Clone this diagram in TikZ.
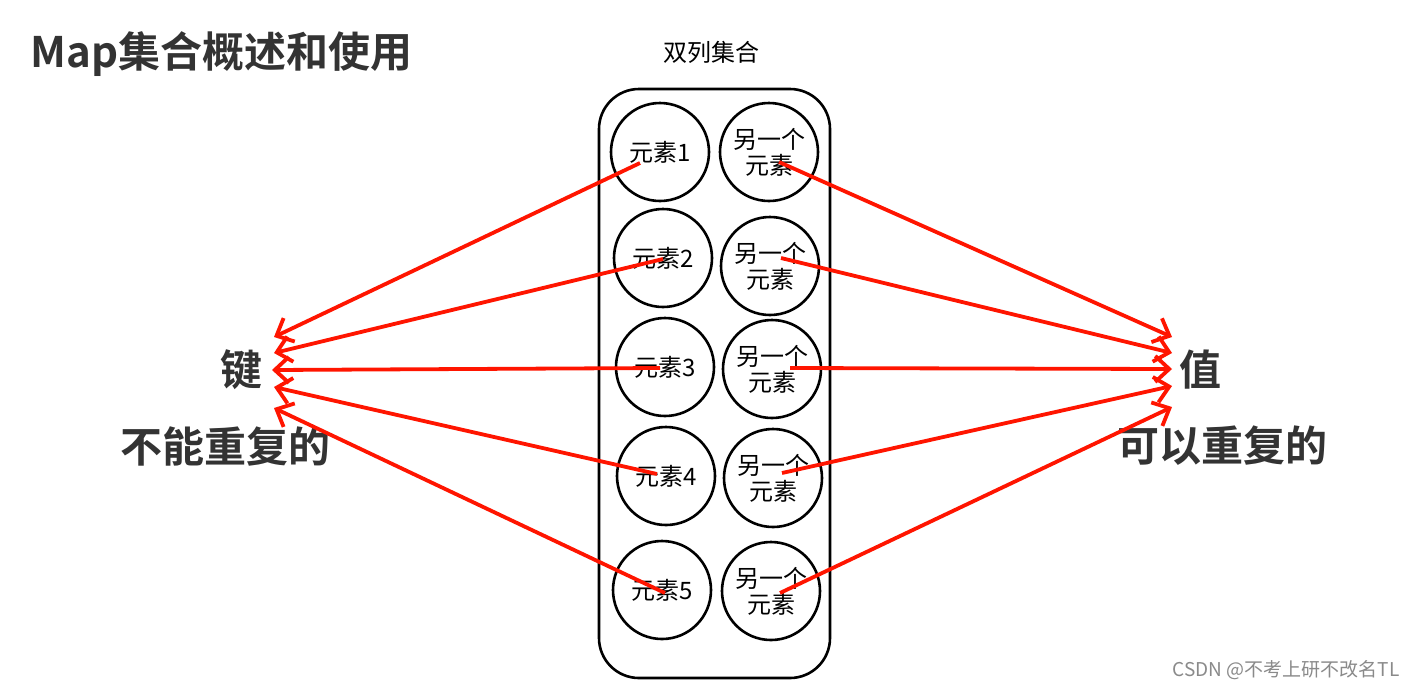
\documentclass[tikz,border=0pt]{standalone}
\usepackage{fontspec}
\newfontfamily\cjk{Noto Sans CJK SC}
\newfontfamily\cjkbold{Noto Sans CJK SC Bold}
\usetikzlibrary{arrows.meta}
\definecolor{titlegray}{HTML}{333333}
\definecolor{arrred}{HTML}{FF1500}
\definecolor{wmgray}{HTML}{8A8A8A}
\tikzset{
  elem/.style={circle, draw=black, line width=1.3pt, minimum size=49pt, inner sep=0pt, font=\cjk\fontsize{12}{13}\selectfont, align=center},
  bigtext/.style={font=\cjkbold\fontsize{21}{24}\selectfont, text=titlegray, inner sep=0pt},
  arr/.style={draw=arrred, line width=1.9pt, -{Straight Barb[length=7pt,width=13pt]}},
  holder/.style={draw=black, line width=1.3pt, rounded corners=20pt}
}
\begin{document}
\begin{tikzpicture}[x=0.5pt,y=-0.5pt]
\useasboundingbox[fill=white] (0,0) rectangle (1414,692);
% title
\node[bigtext, anchor=west] (title) at (30,54) {Map集合概述和使用};
\node[font=\cjk\fontsize{12}{14}\selectfont, inner sep=0pt] (cap) at (711,52) {双列集合};
% holder
\draw[holder] (599,89) rectangle (830,678);
% circles
\node[elem] (l1) at (660,152) {元素1};
\node[elem] (l2) at (663,258) {元素2};
\node[elem] (l3) at (665,367) {元素3};
\node[elem] (l4) at (666,476) {元素4};
\node[elem] (l5) at (662,590) {元素5};
\node[elem] (r1) at (769,152) {另一个\\元素};
\node[elem] (r2) at (770,266) {另一个\\元素};
\node[elem] (r3) at (772,369) {另一个\\元素};
\node[elem] (r4) at (773,478) {另一个\\元素};
\node[elem] (r5) at (771,591) {另一个\\元素};
% side labels
\node[bigtext] (key) at (241,370) {键};
\node[bigtext] (keynote) at (225,446) {不能重复的};
\node[bigtext] (val) at (1200,370) {值};
\node[bigtext] (valnote) at (1222,446) {可以重复的};
% arrow coordinates
\coordinate (ls1) at (640,163);
\coordinate (ls2) at (663,259);
\coordinate (ls3) at (660,368);
\coordinate (ls4) at (657,474);
\coordinate (ls5) at (665,593);
\coordinate (rs1) at (779,162);
\coordinate (rs2) at (781,258);
\coordinate (rs3) at (790,368);
\coordinate (rs4) at (782,473);
\coordinate (rs5) at (780,593);
\coordinate (lt1) at (274,337);
\coordinate (lt2) at (274,353);
\coordinate (lt3) at (272,370);
\coordinate (lt4) at (274,387);
\coordinate (lt5) at (274,408);
\coordinate (rt1) at (1172,337);
\coordinate (rt2) at (1172,353);
\coordinate (rt3) at (1172,369);
\coordinate (rt4) at (1172,386);
\coordinate (rt5) at (1172,407);
\foreach \i in {1,...,5}{
  \draw[arr] (ls\i) -- (lt\i);
  \draw[arr] (rs\i) -- (rt\i);
}
% watermark
\node[font=\cjk\fontsize{9.5}{11}\selectfont, text=wmgray, anchor=east, inner sep=0pt] (wm) at (1400,670) {CSDN @不考上研不改名TL};
\end{tikzpicture}
\end{document}
